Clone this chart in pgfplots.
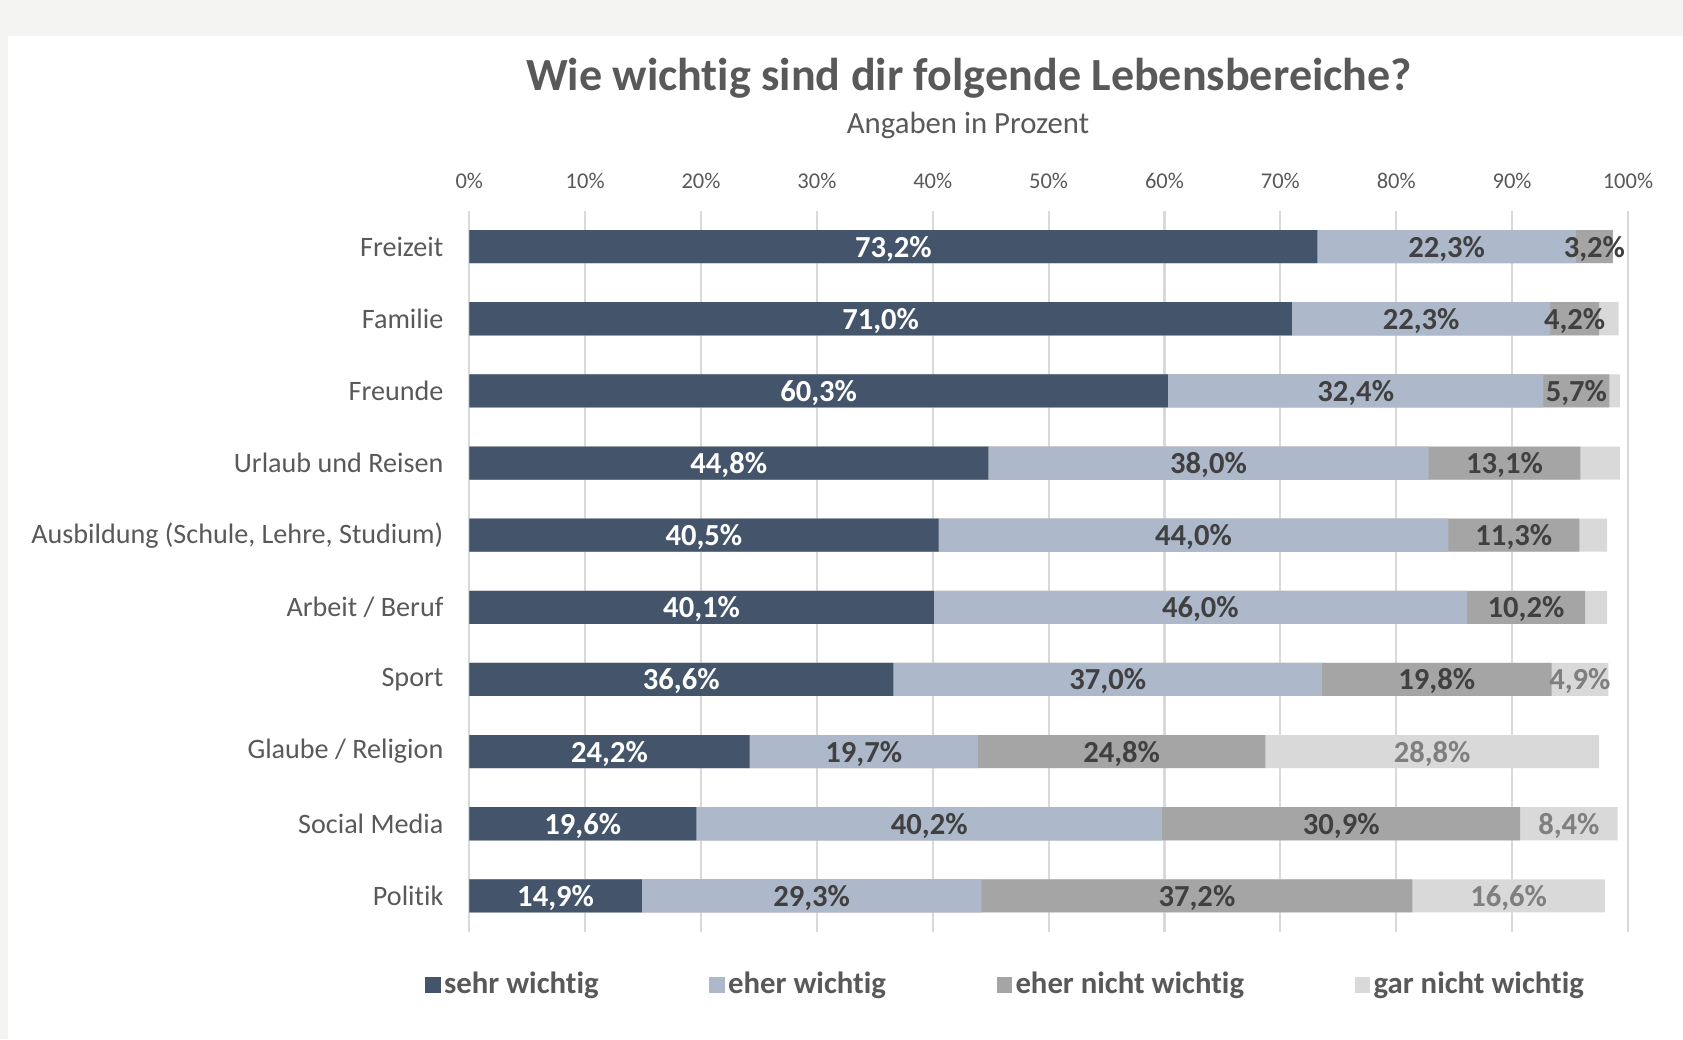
\documentclass[border=0pt]{standalone}
\usepackage{fontspec}
\setmainfont{Carlito}[Ligatures={NoCommon}]
\usepackage{pgfplots}
\usepackage{pgfplotstable}
\pgfplotsset{compat=1.18}
\definecolor{bgout}{HTML}{F4F4F3}
\definecolor{cs}{HTML}{44546A}
\definecolor{ce}{HTML}{ADB9CA}
\definecolor{cn}{HTML}{A5A5A5}
\definecolor{cg}{HTML}{D9D9D9}
\definecolor{txt}{HTML}{595959}
\definecolor{lab}{HTML}{404040}
\definecolor{labg}{HTML}{7F7F7F}
\definecolor{grid}{HTML}{D9D9D9}
\pgfplotstableread{
idx s e n g
0 73.2 22.3 3.2 0.0
1 71.0 22.3 4.2 1.7
2 60.3 32.4 5.7 0.9
3 44.8 38.0 13.1 3.4
4 40.5 44.0 11.3 2.4
5 40.1 46.0 10.2 1.9
6 36.6 37.0 19.8 4.9
7 24.2 19.7 24.8 28.8
8 19.6 40.2 30.9 8.4
9 14.9 29.3 37.2 16.6
}\data
\newcommand{\pct}{\pgfmathprintnumber[fixed,fixed zerofill,precision=1,use comma]{\pgfplotspointmeta}\%}
\begin{document}
\begin{tikzpicture}[x=0.01cm,y=0.01cm]
\fill[bgout] (0,0) rectangle (1683,1039);
\fill[white] (8,0) rectangle (1683,1003);
\node[font=\bfseries\fontsize{13.1}{15}\selectfont, text=txt] at (969,961) {Wie wichtig sind dir folgende Lebensbereiche?};
\node[font=\fontsize{8.75}{10}\selectfont, text=txt] at (968,914) {Angaben in Prozent};
\begin{axis}[
  at={(4.69cm,1.07cm)}, anchor=south west,
  scale only axis, width=11.58cm, height=7.21cm,
  xmin=0, xmax=100, ymin=-0.5, ymax=9.5, y dir=reverse,
  axis line style={draw=none},
  major tick length=0pt,
  xtick={0,10,...,100},
  xticklabel pos=top,
  xticklabel={\pgfmathprintnumber{\tick}\%},
  xticklabel style={font=\fontsize{6.4}{7}\selectfont, text=txt, anchor=base, yshift=0.22cm},
  ytick={0,...,9},
  yticklabels={Freizeit,Familie,Freunde,Urlaub und Reisen,{Ausbildung (Schule, Lehre, Studium)},Arbeit / Beruf,Sport,Glaube / Religion,Social Media,Politik},
  yticklabel style={font=\fontsize{8}{9}\selectfont, text=txt, anchor=east, xshift=-0.135cm},
  xmajorgrids, major grid style={color=grid, line width=0.6pt},
  /pgf/number format/assume math mode=true,
  clip=false,
  every node near coord/.style={anchor=center, yshift=-0.02cm, font=\bfseries\fontsize{8.7}{10}\selectfont},
  legend style={draw=none, fill=none, at={(0.4635,-0.0745)}, anchor=center,
    font=\bfseries\fontsize{8.75}{10}\selectfont, text=txt,
    /tikz/every even column/.append style={column sep=1.07cm},
    nodes={inner sep=1pt}},
  legend columns=4,
]
\addplot[xbar, bar width=0.33cm, bar shift=0pt, fill=cg, draw=none, forget plot]
  table[x expr=\thisrow{s}+\thisrow{e}+\thisrow{n}+\thisrow{g}, y=idx] {\data};
\addplot[xbar, bar width=0.33cm, bar shift=0pt, fill=cn, draw=none, forget plot]
  table[x expr=\thisrow{s}+\thisrow{e}+\thisrow{n}, y=idx] {\data};
\addplot[xbar, bar width=0.33cm, bar shift=0pt, fill=ce, draw=none, forget plot]
  table[x expr=\thisrow{s}+\thisrow{e}, y=idx] {\data};
\addplot[xbar, bar width=0.33cm, bar shift=0pt, fill=cs, draw=none, forget plot]
  table[x=s, y=idx] {\data};
% labels
\addplot[draw=none, mark=none, forget plot, point meta=explicit,
  nodes near coords={\pct}, every node near coord/.append style={text=white}]
  table[x expr=\thisrow{s}/2, y=idx, meta=s] {\data};
\addplot[draw=none, mark=none, forget plot, point meta=explicit,
  nodes near coords={\pct}, every node near coord/.append style={text=lab}]
  table[x expr=\thisrow{s}+\thisrow{e}/2, y=idx, meta=e] {\data};
\addplot[draw=none, mark=none, forget plot, point meta=explicit,
  nodes near coords={\pct}, every node near coord/.append style={text=lab}]
  table[x expr=\thisrow{s}+\thisrow{e}+\thisrow{n}/2, y=idx, meta=n] {\data};
\addplot[draw=none, mark=none, forget plot, point meta=explicit,
  skip coords between index={0}{6},
  nodes near coords={\pct}, every node near coord/.append style={text=labg}]
  table[x expr=\thisrow{s}+\thisrow{e}+\thisrow{n}+\thisrow{g}/2, y=idx, meta=g] {\data};
\addlegendimage{legend image code/.code={\fill[cs] (0cm,-0.07cm) rectangle (0.14cm,0.08cm);}}
\addlegendentry{sehr wichtig}
\addlegendimage{legend image code/.code={\fill[ce] (0cm,-0.07cm) rectangle (0.14cm,0.08cm);}}
\addlegendentry{eher wichtig}
\addlegendimage{legend image code/.code={\fill[cn] (0cm,-0.07cm) rectangle (0.14cm,0.08cm);}}
\addlegendentry{eher nicht wichtig}
\addlegendimage{legend image code/.code={\fill[cg] (0cm,-0.07cm) rectangle (0.14cm,0.08cm);}}
\addlegendentry{gar nicht wichtig}
\end{axis}
\end{tikzpicture}
\end{document}
